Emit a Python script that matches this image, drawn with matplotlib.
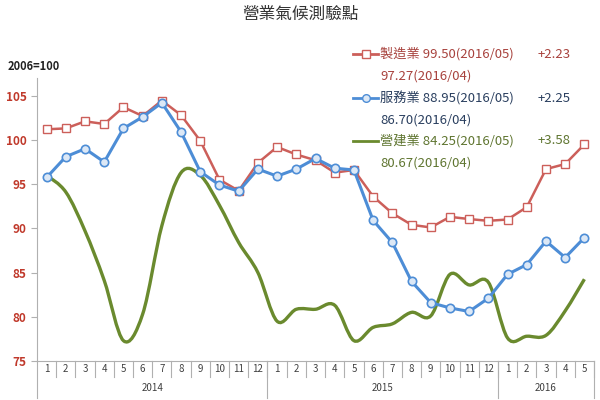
import numpy as np
import matplotlib
matplotlib.use("Agg")
import matplotlib.pyplot as plt
from matplotlib.path import Path
from matplotlib.patches import PathPatch
import matplotlib.transforms as mtransforms

plt.rcParams['font.family'] = ['Noto Sans CJK TC', 'DejaVu Sans']

# data
months = [str(m) for m in range(1, 13)] + [str(m) for m in range(1, 13)] + [str(m) for m in range(1, 6)]
years = ['2014', '2015', '2016']
year_lengths = [12, 12, 5]

manufacturing = [101.2, 101.3, 102.1, 101.8, 103.7, 102.7, 104.45, 102.8, 99.9, 95.5, 94.25, 97.4,
                 99.2, 98.35, 97.7, 96.3, 96.6, 93.6, 91.7, 90.4, 90.1, 91.3, 91.05, 90.85,
                 91.0, 92.4, 96.7, 97.27, 99.50]
services = [95.75, 98.1, 99.0, 97.5, 101.3, 102.6, 104.2, 100.9, 96.4, 94.9, 94.2, 96.7,
            95.9, 96.7, 97.9, 96.8, 96.6, 90.9, 88.4, 84.0, 81.6, 81.0, 80.6, 82.1,
            84.8, 85.9, 88.55, 86.70, 88.95]
construction = [96.0, 94.1, 89.7, 84.1, 77.3, 80.3, 90.3, 96.3, 96.0, 92.6, 88.4, 85.0,
                79.5, 80.85, 80.85, 81.3, 77.3, 78.8, 79.2, 80.5, 80.1, 84.8, 83.6, 83.9,
                77.6, 77.8, 77.9, 80.67, 84.25]

legend_rows = [
    ('製造業 99.50(2016/05)', '+2.23', '97.27(2016/04)'),
    ('服務業 88.95(2016/05)', '+2.25', '86.70(2016/04)'),
    ('營建業 84.25(2016/05)', '+3.58', '80.67(2016/04)'),
]

red = '#CC5F5A'
blue = '#4D8DD6'
green = '#6A8A2E'
text_colors = ['#A8423D', '#2A3F5F', '#5F7530']
grey = '#B0B0B0'

fig = plt.figure(figsize=(6, 4), dpi=100)
ax = fig.add_axes([0.0617, 0.0975, 0.9283, 0.7075])

x = np.arange(len(months))

ax.plot(x, manufacturing, color=red, lw=1.8, marker='s', markersize=6,
        markerfacecolor='white', markeredgecolor=red, markeredgewidth=1, zorder=3)
ax.plot(x, services, color=blue, lw=2.2, marker='o', markersize=6,
        markerfacecolor='#DCE8F6', markeredgecolor=blue, markeredgewidth=1.2, zorder=4)

# smoothed line (Excel style bezier through the data points)
pts = np.column_stack([x, construction]).astype(float)
verts = [tuple(pts[0])]
codes = [Path.MOVETO]
n = len(pts)
for i in range(n - 1):
    p0 = pts[i - 1] if i > 0 else pts[i]
    p1 = pts[i]
    p2 = pts[i + 1]
    p3 = pts[i + 2] if i + 2 < n else pts[i + 1]
    c1 = p1 + (p2 - p0) / 6.0
    c2 = p2 - (p3 - p1) / 6.0
    verts += [tuple(c1), tuple(c2), tuple(p2)]
    codes += [Path.CURVE4] * 3
ax.add_patch(PathPatch(Path(verts, codes), facecolor='none', edgecolor=green, lw=2.4, zorder=2))

ax.set_xlim(-0.5, len(months) - 0.5)
ax.set_ylim(75, 107)
ax.set_yticks([75, 80, 85, 90, 95, 100, 105])
ax.tick_params(axis='y', colors=grey, labelcolor='#C0392B', labelsize=8.5, length=4, width=0.8)
for lab in ax.get_yticklabels():
    lab.set_fontweight('bold')
ax.set_xticks([])
for s in ['top', 'right']:
    ax.spines[s].set_visible(False)
ax.spines['left'].set_color(grey)
ax.spines['bottom'].set_color(grey)

# category axis: months and years in cells
trans = mtransforms.blended_transform_factory(ax.transData, ax.transAxes)
for i, m in enumerate(months):
    ax.text(i, -0.028, m, transform=trans, ha='center', va='center', fontsize=7, color='#404040')
    ax.plot([i + 0.5, i + 0.5], [0, -0.057], transform=trans, color=grey, lw=0.8, clip_on=False)
start = 0
for yr, ln in zip(years, year_lengths):
    ax.text(start + ln / 2 - 0.5, -0.095, yr, transform=trans, ha='center', va='center',
            fontsize=7, color='#404040')
    ax.plot([start - 0.5, start - 0.5], [0, -0.13], transform=trans, color=grey, lw=0.8, clip_on=False)
    start += ln
ax.plot([start - 0.5, start - 0.5], [0, -0.13], transform=trans, color=grey, lw=0.8, clip_on=False)

fig.text(0.5, 0.963, '營業氣候測驗點', ha='center', va='center', fontsize=12, color='#333333')
fig.text(0.012, 0.833, '2006=100', ha='left', va='center', fontsize=8, fontweight='bold', color='#222222')

# legend
row_y = [54, 98, 141]
styles = [(red, 's', 'white'), (blue, 'o', '#DCE8F6'), (green, None, None)]
for (main, delta, prev), yy, tc, (col, mk, mfc) in zip(legend_rows, row_y, text_colors, styles):
    fy = 1 - yy / 400
    fig.add_artist(plt.Line2D([353 / 600, 378 / 600], [fy, fy], color=col, lw=2,
                              transform=fig.transFigure))
    if mk:
        fig.add_artist(plt.Line2D([365.5 / 600], [fy], color=col, marker=mk, markersize=5.5,
                                  markerfacecolor=mfc, markeredgecolor=col, lw=0,
                                  transform=fig.transFigure))
    fig.text(380 / 600, fy, main, ha='left', va='center', fontsize=9.5, color=tc)
    fig.text(538 / 600, fy, delta, ha='left', va='center', fontsize=9.5, color=tc)
    fig.text(380 / 600, 1 - (yy + 22) / 400, prev, ha='left', va='center', fontsize=9.5, color=tc)

fig.savefig('out.png', dpi=100)
